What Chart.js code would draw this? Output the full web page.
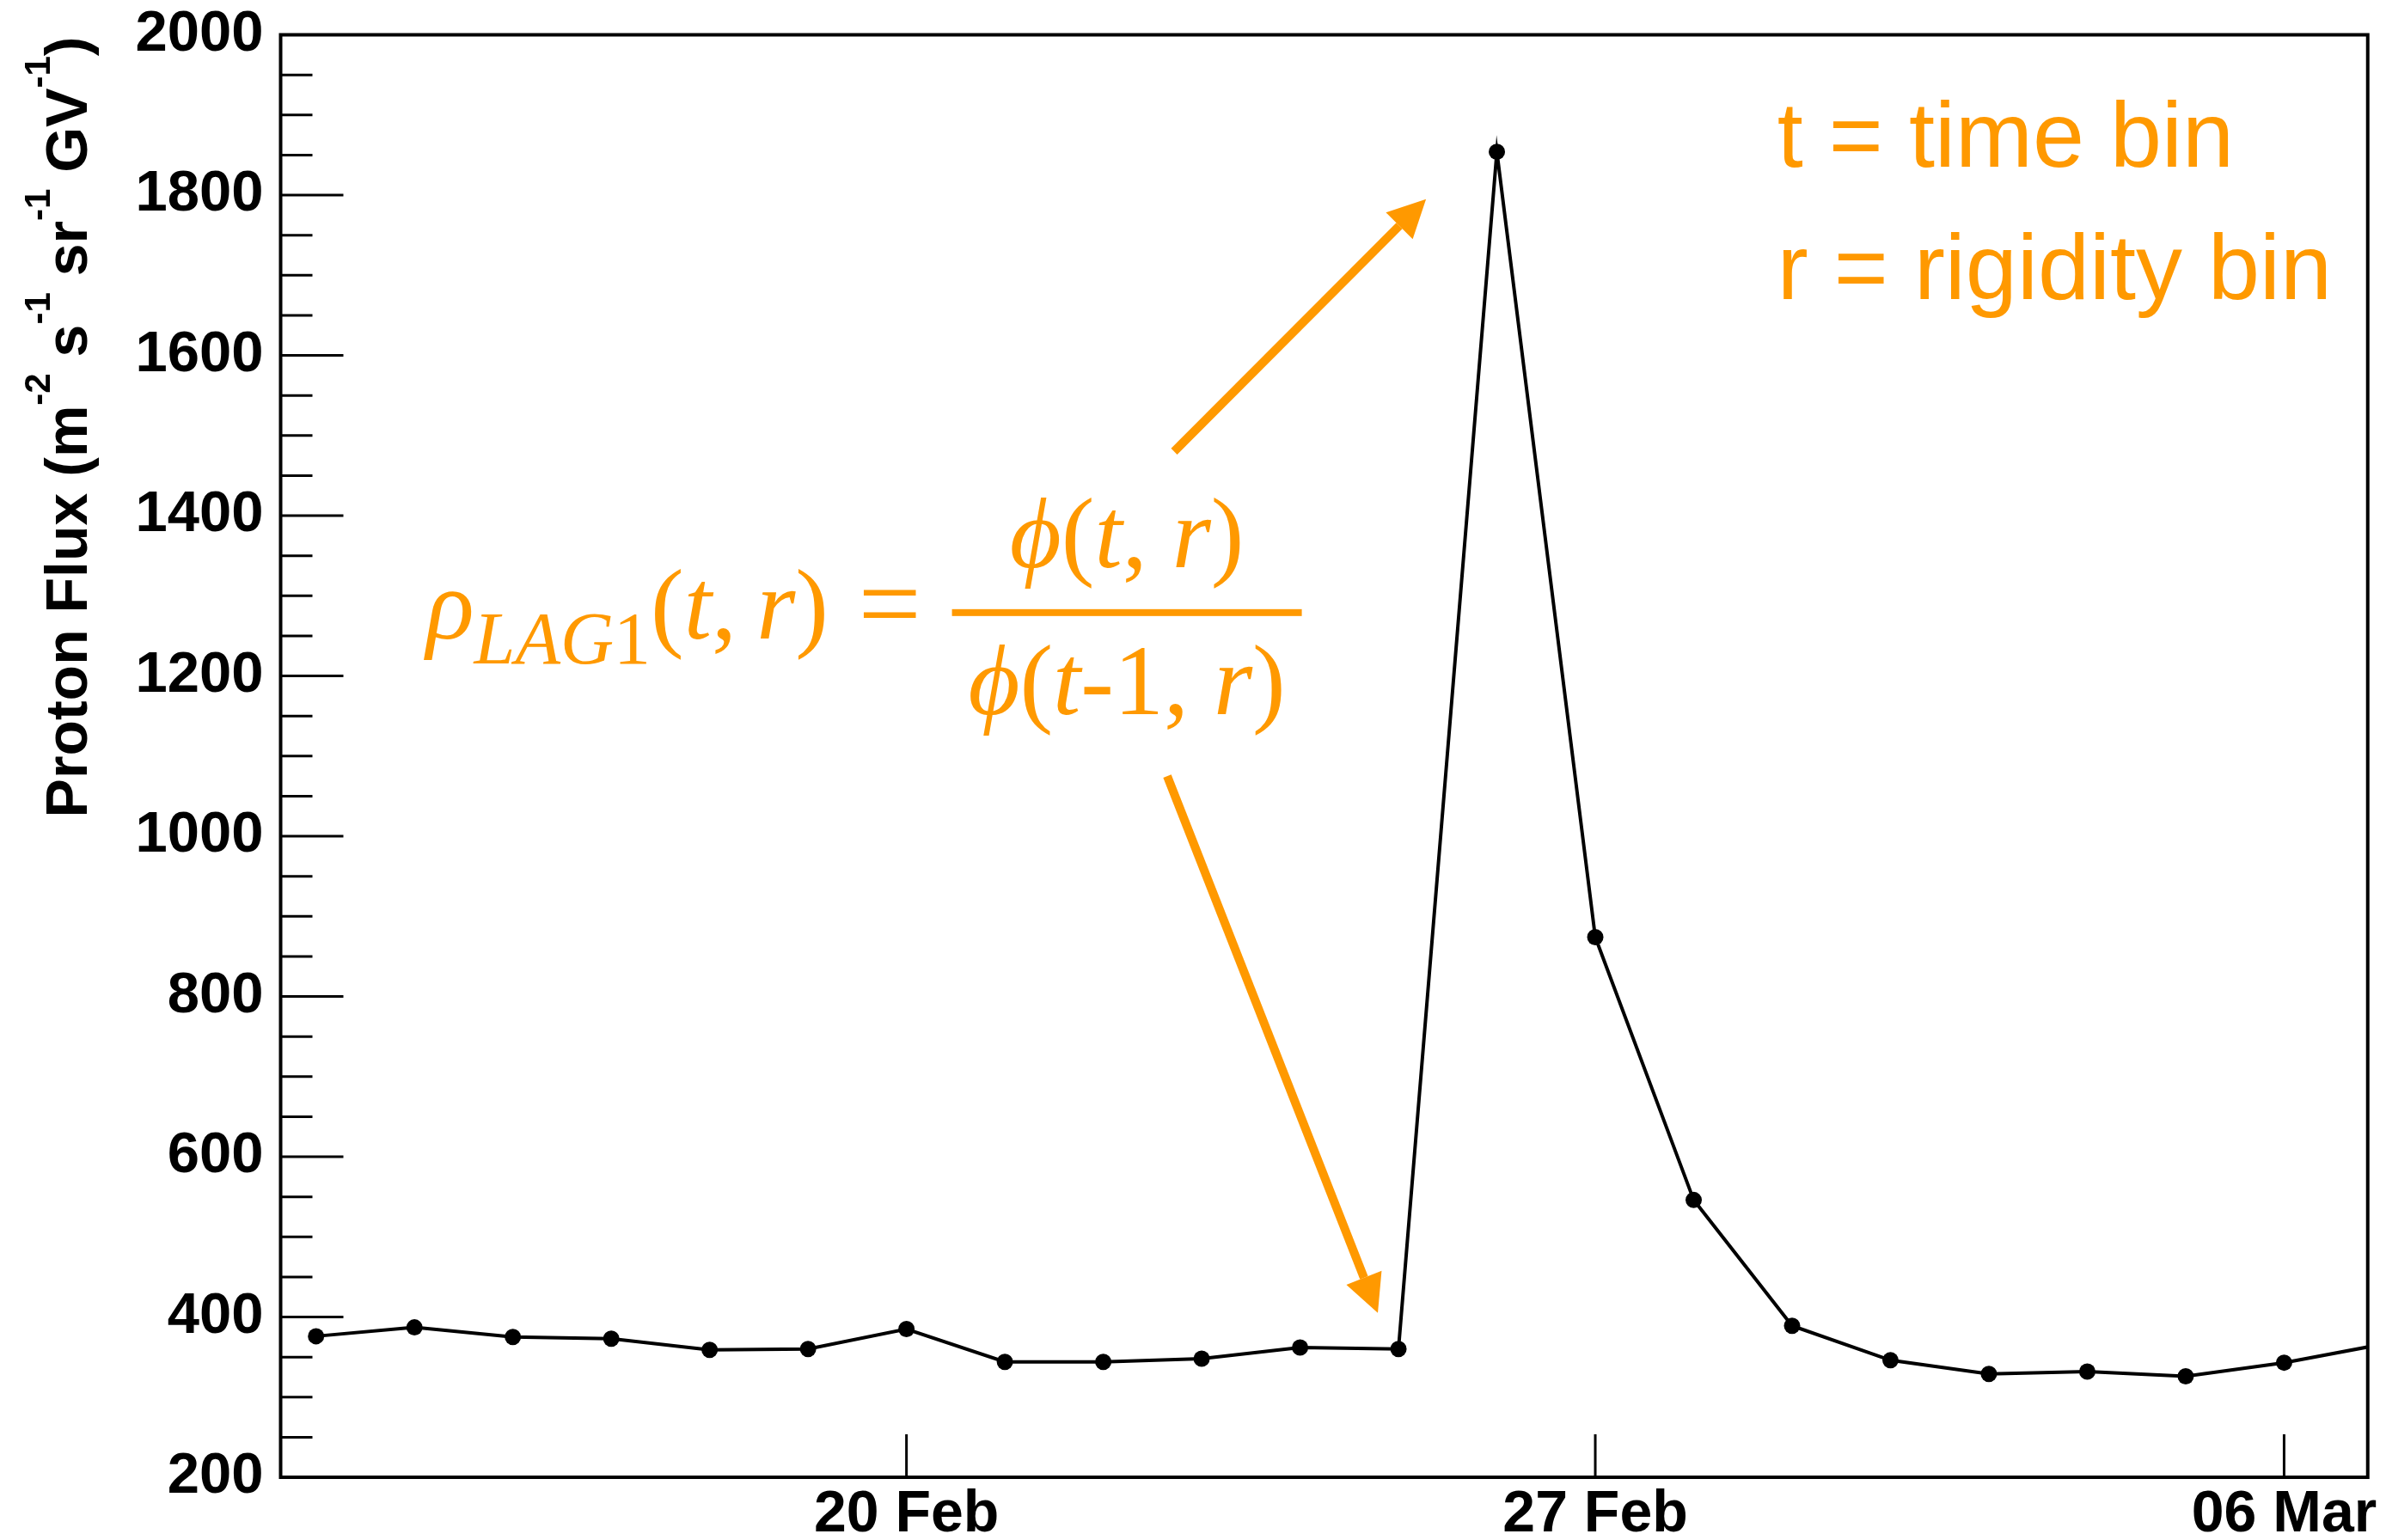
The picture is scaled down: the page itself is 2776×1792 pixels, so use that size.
<html>
<head>
<title>Proton Flux</title>
<script src="https://cdn.jsdelivr.net/npm/chart.js@4.4.1/dist/chart.umd.min.js"></script>
<style>
  body { margin: 0; background: #fff; }
</style>
</head>
<body>
<canvas id="flux" width="2776" height="1792"></canvas>

<script>
// daily proton flux, one point per day
var dates = ['14 Feb', '15 Feb', '16 Feb', '17 Feb', '18 Feb', '19 Feb', '20 Feb',
             '21 Feb', '22 Feb', '23 Feb', '24 Feb', '25 Feb', '26 Feb', '27 Feb',
             '28 Feb', '01 Mar', '02 Mar', '03 Mar', '04 Mar', '05 Mar', '06 Mar', '07 Mar'];
var flux = [376, 387, 375, 373, 359, 360, 385,
            344, 344, 348, 362, 360, 1854, 874,
            546, 389, 346, 329, 332, 326, 343, 366];
var tickLabels = ['20 Feb', '27 Feb', '06 Mar'];

var refDay = dates.indexOf('20 Feb');
var xMin = -6.36, xMax = 14.85;
var yMin = 200, yMax = 2000;

var orange = '#ff9900';
var sans = '"Liberation Sans", Arial, sans-serif';
var serif = '"Liberation Serif", "DejaVu Serif", serif';

// annotation anchors, in axis units (day offset, flux)
var notes = {
  rho: { day: -4.88, flux: 1247 },
  eq: { day: -0.17, flux: 1243 },
  frac: { day: 2.24, bar: 1279, num: 1336, den: 1152 },
  bins: { day: 8.85, lines: [1835, 1670] },
  arrows: [[2.72, 1480, 5.28, 1795], [2.65, 1075, 4.79, 405]]
};

var points = dates.map(function (d, i) { return { x: i - refDay, y: flux[i] }; });

function runsWidth(ctx, runs) {
  var w = 0;
  runs.forEach(function (r) { ctx.font = r.font; w += ctx.measureText(r.text).width; });
  return w;
}
function drawRuns(ctx, runs, x, y) {
  runs.forEach(function (r) {
    ctx.font = r.font;
    ctx.fillText(r.text, x, y + (r.dy || 0));
    x += ctx.measureText(r.text).width;
  });
}
function arrow(ctx, x0, y0, x1, y1) {
  var ang = Math.atan2(y1 - y0, x1 - x0), hl = 44, hw = 22;
  var bx = x1 - hl * Math.cos(ang), by = y1 - hl * Math.sin(ang);
  ctx.lineWidth = 10;
  ctx.lineCap = 'butt';
  ctx.beginPath(); ctx.moveTo(x0, y0); ctx.lineTo(bx, by); ctx.stroke();
  ctx.beginPath();
  ctx.moveTo(x1, y1);
  ctx.lineTo(bx + hw * Math.sin(ang), by - hw * Math.cos(ang));
  ctx.lineTo(bx - hw * Math.sin(ang), by + hw * Math.cos(ang));
  ctx.closePath();
  ctx.fill();
}

var I = 'italic 116px ' + serif, R = '116px ' + serif;
var SI = 'italic 86px ' + serif, SR = '86px ' + serif;
var lhs = [
  { text: '\u03c1', font: I },
  { text: 'LAG', font: SI, dy: 29 },
  { text: '1', font: SR, dy: 29 },
  { text: '(', font: R }, { text: 't', font: I }, { text: ',\u2009', font: R },
  { text: 'r', font: I }, { text: ')', font: R }
];
var num = [
  { text: '\u03d5', font: I }, { text: '(', font: R }, { text: 't', font: I },
  { text: ', ', font: R }, { text: 'r', font: I }, { text: ')', font: R }
];
var den = [
  { text: '\u03d5', font: I }, { text: '(', font: R }, { text: 't', font: I },
  { text: '-1', font: R }, { text: ', ', font: R }, { text: 'r', font: I }, { text: ')', font: R }
];

var B = 'bold 68px ' + sans, S = 'bold 42px ' + sans;
var yTitle = [
  { text: 'Proton Flux (m', font: B }, { text: '-2', font: S, dy: -43 },
  { text: ' s', font: B }, { text: '-1', font: S, dy: -43 },
  { text: ' sr', font: B }, { text: '-1', font: S, dy: -43 },
  { text: ' GV', font: B }, { text: '-1', font: S, dy: -43 },
  { text: ')', font: B }
];

// frame, inward ticks (ROOT style), y title and the orange notes
var decor = {
  id: 'decor',
  afterDraw: function (chart) {
    var ctx = chart.ctx, a = chart.chartArea, x = chart.scales.x, y = chart.scales.y;
    ctx.save();
    ctx.strokeStyle = '#000';
    ctx.lineWidth = 4;
    ctx.strokeRect(a.left, a.top, a.right - a.left, a.bottom - a.top);

    ctx.lineWidth = 3;
    y.ticks.forEach(function (t) {
      var py = y.getPixelForValue(t.value);
      var len = t.value % 200 === 0 ? 73 : 37;
      ctx.beginPath(); ctx.moveTo(a.left, py); ctx.lineTo(a.left + len, py); ctx.stroke();
    });
    x.ticks.forEach(function (t) {
      var px = x.getPixelForValue(t.value);
      ctx.beginPath(); ctx.moveTo(px, a.bottom); ctx.lineTo(px, a.bottom - 50); ctx.stroke();
    });

    // y axis title
    ctx.fillStyle = '#000';
    ctx.textAlign = 'left';
    ctx.textBaseline = 'alphabetic';
    var w = runsWidth(ctx, yTitle);
    ctx.save();
    ctx.translate(a.left - 226, 497 + w / 2);
    ctx.rotate(-Math.PI / 2);
    drawRuns(ctx, yTitle, 0, 0);
    ctx.restore();

    // formula
    ctx.fillStyle = orange;
    ctx.strokeStyle = orange;
    drawRuns(ctx, lhs, x.getPixelForValue(notes.rho.day), y.getPixelForValue(notes.rho.flux));
    ctx.font = '130px ' + serif;
    ctx.textAlign = 'center';
    ctx.fillText('=', x.getPixelForValue(notes.eq.day), y.getPixelForValue(notes.eq.flux));
    ctx.textAlign = 'left';
    var cx = x.getPixelForValue(notes.frac.day);
    var by = y.getPixelForValue(notes.frac.bar);
    ctx.fillRect(cx - 203.5, by - 4, 407, 8);
    var nw = runsWidth(ctx, num), dw = runsWidth(ctx, den);
    drawRuns(ctx, num, cx - nw / 2, y.getPixelForValue(notes.frac.num));
    drawRuns(ctx, den, cx - dw / 2, y.getPixelForValue(notes.frac.den));

    // t / r legend
    ctx.font = '108px ' + sans;
    ctx.fillText('t = time bin', x.getPixelForValue(notes.bins.day), y.getPixelForValue(notes.bins.lines[0]));
    ctx.fillText('r = rigidity bin', x.getPixelForValue(notes.bins.day), y.getPixelForValue(notes.bins.lines[1]));

    notes.arrows.forEach(function (ar) {
      arrow(ctx, x.getPixelForValue(ar[0]), y.getPixelForValue(ar[1]),
                 x.getPixelForValue(ar[2]), y.getPixelForValue(ar[3]));
    });
    ctx.restore();
  }
};

var ctx = document.getElementById('flux').getContext('2d');
var myChart = new Chart(ctx, {
  type: 'line',
  data: {
    datasets: [{
      data: points,
      borderColor: '#000',
      borderWidth: 4,
      pointRadius: 9.5,
      pointBackgroundColor: '#000',
      pointBorderWidth: 0,
      tension: 0,
      clip: 0
    }]
  },
  options: {
    responsive: false,
    animation: false,
    events: [],
    layout: { padding: { top: 40.5, right: 21, left: 0, bottom: 0 } },
    plugins: { legend: { display: false }, tooltip: { enabled: false } },
    scales: {
      x: {
        type: 'linear',
        min: xMin,
        max: xMax,
        grid: { display: false, drawTicks: false },
        border: { display: false },
        afterBuildTicks: function (s) {
          s.ticks = tickLabels.map(function (l) { return { value: dates.indexOf(l) - refDay }; });
        },
        afterFit: function (s) { s.height = 73; },
        ticks: {
          autoSkip: false,
          maxRotation: 0,
          padding: 10,
          color: '#000',
          font: { family: 'Liberation Sans', size: 68, weight: 'bold', lineHeight: 1 },
          callback: function (v) {
            var i = tickLabels.findIndex(function (l) { return dates.indexOf(l) - refDay === v; });
            return i < 0 ? '' : tickLabels[i];
          }
        }
      },
      y: {
        min: yMin,
        max: yMax,
        grid: { display: false, drawTicks: false },
        border: { display: false },
        afterFit: function (s) { s.width = 326.5; },
        ticks: {
          stepSize: 50,
          autoSkip: false,
          padding: 20,
          color: '#000',
          font: { family: 'Liberation Sans', size: 67, weight: 'bold', lineHeight: 0.3 },
          callback: function (v) { return v % 200 === 0 ? String(v) : ''; }
        }
      }
    }
  },
  plugins: [decor]
});
</script>
</body>
</html>
